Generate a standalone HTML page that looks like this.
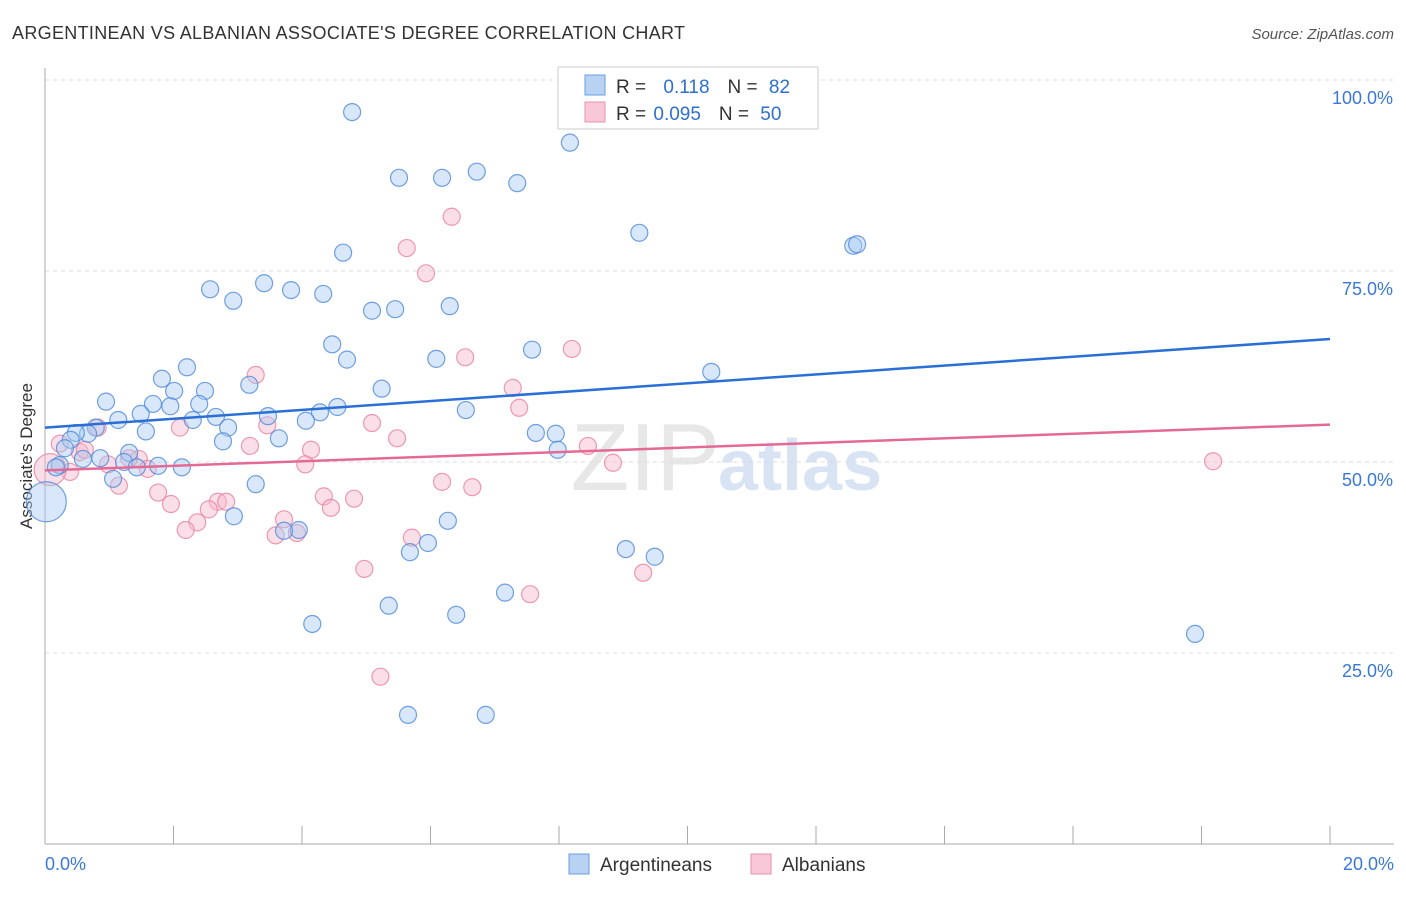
<!DOCTYPE html>
<html><head><meta charset="utf-8"><style>
body{margin:0;background:#fff;font-family:"Liberation Sans",sans-serif}
svg text{font-family:"Liberation Sans",sans-serif}
</style></head><body>
<svg id="c" width="1406" height="892" viewBox="0 0 1406 892" xmlns="http://www.w3.org/2000/svg">
<text x="12" y="39" font-size="18" fill="#333" textLength="673">ARGENTINEAN VS ALBANIAN ASSOCIATE'S DEGREE CORRELATION CHART</text>
<text x="1394" y="39" font-size="15" fill="#555" font-style="italic" text-anchor="end">Source: ZipAtlas.com</text>
<text x="32" y="456" font-size="17" fill="#333" text-anchor="middle" transform="rotate(-90 32 456)">Associate's Degree</text>
<g id="grid"></g>
<text x="720" y="490" font-size="96" fill="#ddd" text-anchor="end" font-family="Liberation Serif" opacity="0.7">ZIP</text>
<text x="718" y="490" font-size="72" fill="#c8d8ee" font-weight="bold" opacity="0.7">atlas</text>
<g id="pts"></g>
<g id="lines"></g>
<g>
<rect x="558" y="67" width="260" height="62" fill="#fff" stroke="#ccc"/>
<rect x="585" y="75" width="20" height="20" fill="#b8d2f4" stroke="#6a9ee0"/>
<rect x="585" y="102" width="20" height="20" fill="#f8c8d8" stroke="#e890ae"/>
<text x="616" y="93" font-size="19" fill="#333">R = <tspan fill="#2f6fd0" dx="12">0.118</tspan><tspan dx="18" fill="#333">N = </tspan><tspan fill="#2f6fd0" dx="6">82</tspan></text>
<text x="616" y="120" font-size="19" fill="#333">R = <tspan fill="#2f6fd0" dx="2">0.095</tspan><tspan dx="18" fill="#333">N = </tspan><tspan fill="#2f6fd0" dx="6">50</tspan></text>
</g>
<g>
<rect x="569" y="854" width="20" height="20" fill="#b8d2f4" stroke="#6a9ee0"/>
<text x="600" y="871" font-size="19" fill="#333">Argentineans</text>
<rect x="751" y="854" width="20" height="20" fill="#f8c8d8" stroke="#e890ae"/>
<text x="782" y="871" font-size="19" fill="#333">Albanians</text>
</g>
</svg>
<script>
const yTicks=[25,50,75,100];
const yTickLabels=["25.0%","50.0%","75.0%","100.0%"];
const xTickLabels=["0.0%","20.0%"];
const blueX=[4.78,8.17,5.51,6.18,6.72,7.35,9.25,12.58,12.64,4.64,3.41,2.57,3.83,4.33,2.93,5.09,5.45,6.30,4.47,7.58,4.70,6.09,10.37,2.21,1.82,3.18,5.24,2.01,2.49,0.95,1.68,2.40,1.95,4.55,4.28,6.55,1.49,3.47,2.66,1.14,2.30,4.06,2.85,0.79,1.57,0.67,0.48,7.64,7.95,0.40,3.64,2.77,0.31,7.98,1.31,0.86,0.59,1.23,1.43,1.76,2.13,0.23,0.17,1.06,3.28,2.94,6.27,3.95,3.72,5.96,5.68,9.04,9.49,7.16,5.35,6.40,4.16,17.9,5.65,6.86,8.95,0.02];
const blueY=[95.8,91.8,87.2,87.2,88.0,86.5,80.0,78.3,78.5,77.4,73.4,72.6,72.5,72.0,71.1,69.8,70.0,70.4,65.4,64.7,63.4,63.5,61.8,62.4,60.9,60.1,59.6,59.3,59.3,57.9,57.6,57.6,57.3,57.2,56.5,56.8,56.3,56.0,55.9,55.5,55.5,55.4,54.5,54.5,54.0,53.7,53.8,53.8,53.7,52.9,53.1,52.7,51.8,51.6,51.2,50.5,50.4,50.0,49.3,49.5,49.3,49.6,49.3,47.8,47.1,42.9,42.3,41.1,41.0,39.4,38.2,38.6,37.6,32.9,31.2,30.0,28.8,27.5,16.9,16.9,100.3,44.8];
const pinkX=[6.33,5.63,5.93,8.20,6.54,3.28,7.28,7.38,5.09,3.46,2.10,0.82,5.48,0.23,3.19,8.45,4.14,0.54,1.46,1.31,0.98,8.84,18.18,4.05,1.60,0.39,6.18,6.65,1.15,1.76,4.34,4.81,1.96,2.69,2.82,2.55,4.45,2.37,3.72,2.19,5.71,3.59,3.92,4.97,9.31,7.55,5.22,0.08,0.62];
const pinkY=[82.1,78.0,74.7,64.8,63.7,61.4,59.7,57.1,55.1,54.8,54.5,54.5,53.1,52.4,52.1,52.1,51.6,51.3,50.4,50.5,49.7,49.9,50.1,49.7,49.1,48.7,47.4,46.7,46.9,46.0,45.5,45.2,44.5,44.8,44.8,43.8,44.0,42.1,42.5,41.1,40.1,40.4,40.7,36.0,35.5,32.7,21.9,49.0,51.6];
const blueTrend=[54.5,66.1];
const pinkTrend=[48.9,54.9];
const X=v=>45+v/20*1285, Y=v=>844-v/100*764;
const NS="http://www.w3.org/2000/svg";
function mk(tag,attrs,parent){const e=document.createElementNS(NS,tag);for(const k in attrs)e.setAttribute(k,attrs[k]);parent.appendChild(e);return e;}
const svg=document.getElementById('c'),grid=document.getElementById('grid'),pts=document.getElementById('pts'),lines=document.getElementById('lines');
yTicks.forEach((t,i)=>{
 const l=mk('line',{x1:45,x2:1394,y1:Y(t),y2:Y(t),stroke:'#ddd','stroke-dasharray':'4,4'},grid);
 
 
 const tx=mk('text',{x:1393,y:Y(t)+24,'font-size':18,fill:'#3a78d8','text-anchor':'end'},grid);
 tx.textContent=yTickLabels[i];
 
 
});
const ax=mk('line',{x1:45,x2:1394,y1:844,y2:844,stroke:'#aaa'},grid);


const ay=mk('line',{x1:45,x2:45,y1:68,y2:844,stroke:'#aaa'},grid);


for(let i=1;i<=10;i++){const t=mk('line',{x1:X(i*2),x2:X(i*2),y1:826,y2:844,stroke:'#aaa'},grid);
 
 }
[[0,'start',45],[20,'end',1394]].forEach((d,i)=>{const t=mk('text',{x:d[2],y:870,'font-size':18,fill:'#3a78d8','text-anchor':d[1]},grid);t.textContent=xTickLabels[i];
 
 });
function dots(xs,ys,fill,stroke,name,bigIdx,bigR){xs.forEach((x,i)=>{const r=i===bigIdx?bigR:8.5;
 const c=mk('circle',{cx:X(x),cy:Y(ys[i]),r:r,fill:fill,'fill-opacity':0.45,stroke:stroke,'stroke-width':1.2,'stroke-opacity':0.8},pts);
 
 });}
dots(pinkX,pinkY,'#f6b8cc','#e8829f','albanian-point',47,16);
dots(blueX,blueY,'#a9c9f2','#4f8ad8','argentinean-point',81,20);
const bl=mk('line',{x1:X(0),y1:Y(blueTrend[0]),x2:X(20),y2:Y(blueTrend[1]),stroke:'#2a6fd6','stroke-width':2.5},lines);


const pl=mk('line',{x1:X(0),y1:Y(pinkTrend[0]),x2:X(20),y2:Y(pinkTrend[1]),stroke:'#e46a95','stroke-width':2.5},lines);


</script>
</body></html>
